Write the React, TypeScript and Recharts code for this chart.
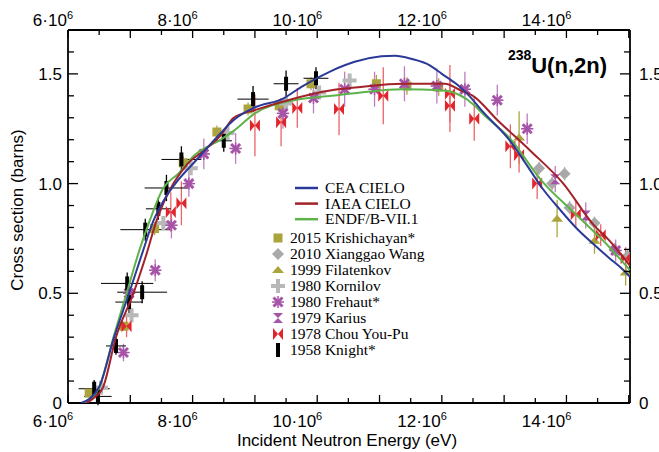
import React from 'react';
import { ComposedChart, Scatter, XAxis, YAxis, ErrorBar, Legend } from 'recharts';

// Evaluated 238U(n,2n) cross sections: [energy (MeV), sigma (b)]
const ceaCielo = [
  [6.21, 0], [6.35, 0.02], [6.5, 0.073], [6.74, 0.3], [6.98, 0.5], [7.2, 0.69], [7.37, 0.83],
  [7.53, 0.92], [7.75, 1.01], [8.02, 1.095], [8.45, 1.23], [8.66, 1.29], [8.98, 1.345],
  [9.47, 1.39], [9.74, 1.44], [10.23, 1.514], [10.6, 1.555], [11.03, 1.58], [11.25, 1.583],
  [11.52, 1.568], [11.8, 1.54], [12.0, 1.5], [12.25, 1.45], [12.44, 1.4], [12.65, 1.33],
  [13.08, 1.2], [13.35, 1.09], [13.61, 0.98], [13.9, 0.88], [14.15, 0.8], [14.45, 0.72],
  [14.69, 0.66], [14.9, 0.61], [15.02, 0.575],
];
const iaeaCielo = [
  [6.29, 0], [6.4, 0.02], [6.56, 0.07], [6.77, 0.3], [7.05, 0.5], [7.25, 0.67], [7.42, 0.83],
  [7.53, 0.91], [7.92, 1.09], [8.18, 1.15], [8.45, 1.22], [8.66, 1.3], [9.0, 1.335],
  [9.53, 1.38], [10.23, 1.425], [10.7, 1.44], [11.35, 1.455], [12.05, 1.455], [12.3, 1.425],
  [12.5, 1.4], [12.89, 1.29], [13.42, 1.15], [13.95, 1.0], [14.44, 0.81], [14.69, 0.74],
  [15.02, 0.625],
];
const endfB71 = [
  [6.26, 0], [6.38, 0.02], [6.5, 0.07], [6.73, 0.3], [6.94, 0.5], [7.15, 0.7], [7.31, 0.83],
  [7.53, 0.98], [7.77, 1.045], [8.02, 1.127], [8.45, 1.2], [8.66, 1.24], [9.0, 1.32],
  [9.63, 1.38], [10.23, 1.4], [10.7, 1.415], [11.35, 1.43], [12.0, 1.425], [12.53, 1.355],
  [12.65, 1.32], [13.08, 1.21], [13.61, 1.01], [14.15, 0.86], [14.69, 0.71], [15.02, 0.605],
];

// Measurements: [energy (MeV), sigma (b), dE (MeV), dsigma (b)]
const krishichayan2015 = [
  [6.34, 0.045, 0, 0.02], [6.9, 0.35, 0, 0.02], [7.39, 0.795, 0, 0.03], [7.85, 1.095, 0, 0.03],
  [8.39, 1.235, 0, 0.03], [8.89, 1.34, 0, 0.03], [9.39, 1.355, 0, 0.03], [9.9, 1.455, 0, 0.03],
  [10.95, 1.455, 0, 0.04], [11.44, 1.445, 0, 0.04], [11.95, 1.44, 0, 0.04],
];
const xianggaoWang2010 = [
  [13.56, 1.07, 0, 0.03], [13.77, 1.0, 0, 0.03], [13.97, 1.045, 0, 0.03], [14.05, 0.89, 0, 0.03],
  [14.45, 0.82, 0, 0.03], [14.77, 0.7, 0, 0.03], [14.98, 0.67, 0, 0.03],
];
const filatenkov1999 = [
  [13.24, 1.21, 0, 0.12], [13.85, 0.84, 0, 0.085], [14.45, 0.74, 0, 0.06], [14.95, 0.595, 0, 0.06],
];
const kornilov1980 = [
  [6.53, 0.07, 0, 0], [7.02, 0.4, 0, 0], [7.53, 0.82, 0, 0], [7.97, 1.07, 0, 0],
  [8.56, 1.23, 0, 0], [9.5, 1.365, 0, 0], [10.03, 1.415, 0, 0], [10.52, 1.47, 0, 0.03],
];
const frehaut1980 = [
  [6.89, 0.23, 0.1, 0.04], [6.98, 0.5, 0.1, 0.05], [7.4, 0.605, 0.1, 0.05], [7.66, 0.81, 0.1, 0.06],
  [7.94, 1.0, 0.1, 0.06], [8.18, 1.135, 0.1, 0.07], [8.69, 1.16, 0.1, 0.07], [9.45, 1.32, 0.1, 0.07],
  [9.94, 1.39, 0.1, 0.07], [10.44, 1.43, 0.1, 0.08], [10.92, 1.43, 0.1, 0.08], [11.4, 1.455, 0.1, 0.08],
  [11.92, 1.445, 0.1, 0.08], [12.37, 1.43, 0.1, 0.08], [12.89, 1.38, 0.1, 0.07], [13.37, 1.25, 0.1, 0.07],
  [14.79, 0.695, 0.1, 0.05],
];
const karius1979 = [
  [13.82, 1.02, 0, 0.06], [14.31, 0.855, 0, 0.06],
];
const chouYouPu1978 = [
  [6.94, 0.35, 0, 0.05], [7.65, 0.87, 0, 0.09], [7.82, 0.91, 0, 0.1], [9.0, 1.265, 0, 0.14],
  [9.42, 1.28, 0, 0.11], [9.68, 1.345, 0, 0.09], [10.35, 1.34, 0, 0.12], [11.06, 1.4, 0, 0.13],
  [12.13, 1.41, 0, 0.13], [12.13, 1.355, 0, 0.12], [12.52, 1.295, 0, 0.1], [13.1, 1.17, 0, 0.1],
  [13.24, 1.13, 0, 0.08], [13.53, 1.0, 0, 0.07], [14.15, 0.86, 0, 0.06], [14.55, 0.765, 0, 0.05],
  [14.95, 0.66, 0, 0.05],
];
const knight1958 = [
  [6.42, 0.065, 0.25, 0.04], [6.48, 0.03, 0.22, 0.04], [6.77, 0.26, 0.16, 0.04], [6.95, 0.545, 0.42, 0.05],
  [6.98, 0.46, 0.22, 0.05], [7.19, 0.505, 0.4, 0.05], [7.24, 0.79, 0.4, 0.05], [7.45, 0.885, 0.2, 0.05],
  [7.58, 0.98, 0.35, 0.06], [7.82, 1.11, 0.32, 0.06], [8.5, 1.195, 0.13, 0.05], [8.97, 1.385, 0.25, 0.06],
  [9.5, 1.455, 0.2, 0.06], [9.98, 1.48, 0.2, 0.05],
];

// Axis ticks (energy in MeV, cross section in barns)
const energyTicksMeV = [6, 6.5, 7, 7.5, 8, 8.5, 9, 9.5, 10, 10.5, 11, 11.5, 12, 12.5, 13, 13.5, 14, 14.5, 15];
const energyLabelsMeV = [6, 8, 10, 12, 14];
const xsTicks = [0, 0.1, 0.2, 0.3, 0.4, 0.5, 0.6, 0.7, 0.8, 0.9, 1.0, 1.1, 1.2, 1.3, 1.4, 1.5, 1.6, 1.7];
const xsLabels = ['0', '0.5', '1.0', '1.5'];

const curveNames = ['CEA CIELO', 'IAEA CIELO', 'ENDF/B-VII.1'];
const expNames = [
  '2015 Krishichayan*', '2010 Xianggao Wang', '1999 Filatenkov', '1980 Kornilov',
  '1980 Frehaut*', '1979 Karius', '1978 Chou You-Pu', '1958 Knight*',
];

const SANS = 'Liberation Sans, Arial, Helvetica, sans-serif';
const SERIF = 'Liberation Serif, Times New Roman, serif';

const BLUE = '#2b3a98';
const RED = '#a3222a';
const GREEN = '#5db34a';
const OLIVE = '#aba43c';
const GRAY = '#a9a9a9';
const LGRAY = '#b8b8b8';
const PURPLE = '#a654a8';
const CRED = '#e0262c';

const MeV = 1e6;
const curveRows = (pts) => pts.map(([e, s]) => ({ e: e * MeV, s }));
const expRows = (pts) => pts.map(([e, s, de, ds]) => ({ e: e * MeV, s, ex: de * MeV, ey: ds }));

// Marker shapes
const knightShape = ({ cx, cy }) => <rect x={cx - 2} y={cy - 7} width={4} height={14} fill="#000" />;
const squareShape = ({ cx, cy }) => <rect x={cx - 4.5} y={cy - 4.5} width={9} height={9} fill={OLIVE} />;
const diamondShape = ({ cx, cy }) => (
  <path d={`M${cx},${cy - 6}L${cx + 6},${cy}L${cx},${cy + 6}L${cx - 6},${cy}Z`} fill={GRAY} />
);
const triangleShape = ({ cx, cy }) => (
  <path d={`M${cx - 6},${cy + 3}L${cx + 6},${cy + 3}L${cx},${cy - 4}Z`} fill={OLIVE} />
);
const plusShape = ({ cx, cy }) => (
  <g fill={LGRAY}>
    <rect x={cx - 7} y={cy - 2} width={14} height={4} />
    <rect x={cx - 2} y={cy - 7} width={4} height={14} />
  </g>
);
const frehautShape = ({ cx, cy }) => (
  <g stroke={PURPLE} strokeLinecap="butt">
    <line x1={cx - 4.5} y1={cy - 4.5} x2={cx + 4.5} y2={cy + 4.5} strokeWidth={3} />
    <line x1={cx - 4.5} y1={cy + 4.5} x2={cx + 4.5} y2={cy - 4.5} strokeWidth={3} />
    <line x1={cx - 6} y1={cy} x2={cx + 6} y2={cy} strokeWidth={1.5} />
    <line x1={cx} y1={cy - 6} x2={cx} y2={cy + 6} strokeWidth={1.5} />
  </g>
);
const kariusShape = ({ cx, cy }) => (
  <path d={`M${cx - 5},${cy - 5}L${cx + 5},${cy - 5}L${cx - 5},${cy + 5}L${cx + 5},${cy + 5}Z`} fill={PURPLE} />
);
const chouShape = ({ cx, cy }) => (
  <path d={`M${cx - 5},${cy - 6}L${cx + 5},${cy + 6}L${cx + 5},${cy - 6}L${cx - 5},${cy + 6}Z`} fill={CRED} />
);
const noMarker = () => <g />;

const expSeries = [
  { rows: expRows(krishichayan2015), shape: squareShape, bar: OLIVE },
  { rows: expRows(xianggaoWang2010), shape: diamondShape, bar: GRAY },
  { rows: expRows(filatenkov1999), shape: triangleShape, bar: OLIVE },
  { rows: expRows(kornilov1980), shape: plusShape, bar: LGRAY },
  { rows: expRows(frehaut1980), shape: frehautShape, bar: '#c07cc2' },
  { rows: expRows(karius1979), shape: kariusShape, bar: '#c07cc2' },
  { rows: expRows(chouYouPu1978), shape: chouShape, bar: '#ea6468' },
  { rows: expRows(knight1958), shape: knightShape, bar: '#000' },
];
const legendShapes = [squareShape, diamondShape, triangleShape, plusShape, frehautShape, kariusShape, chouShape, knightShape];

const curveSeries = [
  { rows: curveRows(endfB71), color: GREEN, name: curveNames[2] },
  { rows: curveRows(iaeaCielo), color: RED, name: curveNames[1] },
  { rows: curveRows(ceaCielo), color: BLUE, name: curveNames[0] },
];

const isMultiple = (v, step) => Math.abs(v / step - Math.round(v / step)) < 1e-6;

const energyLabel = (mev, x, y) => (
  <text x={x} y={y} textAnchor="end" fontSize={17} fontFamily={SANS} fill="#000">
    {`${mev}·10`}
    <tspan fontSize={11} dy={-7}>6</tspan>
  </text>
);

const BottomTick = ({ x, y, payload }) => {
  const mev = Math.round(payload.value / 1e5) / 10;
  const major = isMultiple(mev, 1);
  return (
    <g>
      <line x1={x} x2={x} y1={y} y2={y - (major ? 8 : 5)} stroke="#000" strokeWidth={1.3} />
      {energyLabelsMeV.includes(mev) && energyLabel(mev, x + 5, y + 24)}
    </g>
  );
};
const TopTick = ({ x, y, payload }) => {
  const mev = Math.round(payload.value / 1e5) / 10;
  const major = isMultiple(mev, 1);
  return (
    <g>
      <line x1={x} x2={x} y1={y} y2={y + (major ? 8 : 5)} stroke="#000" strokeWidth={1.3} />
      {energyLabelsMeV.includes(mev) && energyLabel(mev, x + 5, y - 4)}
    </g>
  );
};
const LeftTick = ({ x, y, payload }) => {
  const v = payload.value;
  const major = isMultiple(v, 0.5);
  const idx = Math.round(v / 0.5);
  return (
    <g>
      <line x1={x} x2={x + (major ? 10 : 6)} y1={y} y2={y} stroke="#000" strokeWidth={1.3} />
      {major && (
        <text x={x - 6} y={y + 6} textAnchor="end" fontSize={17} fontFamily={SANS} fill="#000">
          {xsLabels[idx]}
        </text>
      )}
    </g>
  );
};
const RightTick = ({ x, y, payload }) => {
  const v = payload.value;
  const major = isMultiple(v, 0.5);
  const idx = Math.round(v / 0.5);
  return (
    <g>
      <line x1={x} x2={x - (major ? 10 : 6)} y1={y} y2={y} stroke="#000" strokeWidth={1.3} />
      {major && (
        <text x={x + 9} y={y + 6} textAnchor="start" fontSize={17} fontFamily={SANS} fill="#000">
          {xsLabels[idx]}
        </text>
      )}
    </g>
  );
};

const renderLegend = () => (
  <svg width={210} height={190} style={{ overflow: 'visible' }}>
    {curveNames.map((name, i) => (
      <g key={name}>
        <line x1={27} x2={50} y1={10 + i * 15.6} y2={10 + i * 15.6} stroke={[BLUE, RED, GREEN][i]} strokeWidth={2.5} />
        <text x={57} y={15 + i * 15.6} fontSize={15.5} fontFamily={SERIF} fill="#000">{name}</text>
      </g>
    ))}
    {expNames.map((name, i) => {
      const cy = 60 + i * 16;
      return (
        <g key={name}>
          {legendShapes[i]({ cx: 10, cy })}
          <text x={22} y={cy + 5} fontSize={15.5} fontFamily={SERIF} fill="#000">{name}</text>
        </g>
      );
    })}
  </svg>
);

const xDomain = [6 * MeV, 15.02 * MeV];
const yDomain = [0, 1.7];

export default function App() {
  return (
    <div style={{ position: 'absolute', left: 0, top: 0, width: 659, height: 452, background: '#fff' }}>
      <ComposedChart width={659} height={452} margin={{ top: 0, right: 0, bottom: 19, left: 8 }}>
        <XAxis
          xAxisId="b" orientation="bottom" type="number" dataKey="e" domain={xDomain} allowDataOverflow
          ticks={energyTicksMeV.map((v) => v * MeV)} interval={0} height={30}
          tickSize={0} tickMargin={0} tickLine={false} tick={BottomTick}
          axisLine={{ stroke: '#000', strokeWidth: 1.8 }}
          label={{
            content: () => (
              <text x={347} y={446} textAnchor="middle" fontSize={17} fontFamily={SANS} fill="#000">
                Incident Neutron Energy (eV)
              </text>
            ),
          }}
        />
        <XAxis
          xAxisId="t" orientation="top" type="number" dataKey="e" domain={xDomain} allowDataOverflow
          ticks={energyTicksMeV.map((v) => v * MeV)} interval={0} height={30}
          tickSize={0} tickMargin={0} tickLine={false} tick={TopTick}
          axisLine={{ stroke: '#000', strokeWidth: 1.8 }}
          label={{
            content: () => (
              <text x={607} y={73} textAnchor="end" fontSize={22} fontWeight="bold" fontFamily={SANS} fill="#000">
                <tspan fontSize={14} dy={-13}>238</tspan>
                <tspan dy={13}>U(n,2n)</tspan>
              </text>
            ),
          }}
        />
        <YAxis
          yAxisId="l" orientation="left" type="number" domain={yDomain} allowDataOverflow
          ticks={xsTicks} interval={0} width={60}
          tickSize={0} tickMargin={0} tickLine={false} tick={LeftTick}
          axisLine={{ stroke: '#000', strokeWidth: 1.8 }}
          label={{
            content: () => (
              <text x={23} y={210} transform="rotate(-90 23 210)" textAnchor="middle" fontSize={17} fontFamily={SANS} fill="#000">
                Cross section (barns)
              </text>
            ),
          }}
        />
        <YAxis
          yAxisId="r" orientation="right" type="number" domain={yDomain} allowDataOverflow
          ticks={xsTicks} interval={0} width={29}
          tickSize={0} tickMargin={0} tickLine={false} tick={RightTick}
          axisLine={{ stroke: '#000', strokeWidth: 1.8 }}
        />

        {expSeries.map((s, i) => (
          <Scatter
            key={expNames[i]} name={expNames[i]} data={s.rows} dataKey="s"
            xAxisId="b" yAxisId="l" shape={s.shape} isAnimationActive={false}
          >
            <ErrorBar dataKey="ey" direction="y" width={0} stroke={s.bar} strokeWidth={1.3} />
            <ErrorBar dataKey="ex" direction="x" width={0} stroke={s.bar} strokeWidth={1} />
          </Scatter>
        ))}

        {curveSeries.map((c) => (
          <Scatter
            key={c.name} name={c.name} data={c.rows} dataKey="s" xAxisId="b" yAxisId="l"
            shape={noMarker} line={{ stroke: c.color, strokeWidth: 2, strokeLinejoin: 'round' }}
            lineType="joint" lineJointType="monotoneX" isAnimationActive={false}
          />
        ))}

        <Legend
          layout="vertical" align="center" verticalAlign="middle" content={renderLegend}
          wrapperStyle={{ position: 'absolute', left: 268, top: 178, width: 210, height: 190 }}
        />
      </ComposedChart>
    </div>
  );
}
